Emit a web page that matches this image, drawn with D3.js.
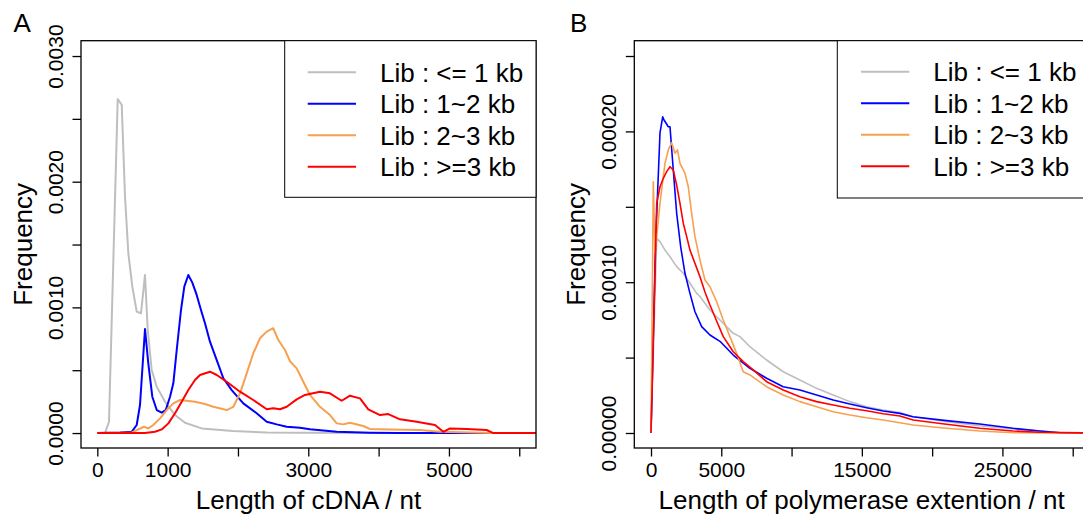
<!DOCTYPE html>
<html>
<head>
<meta charset="utf-8">
<script src="https://cdn.jsdelivr.net/npm/d3@7"></script>
<style>
	body { margin: 0; background: #fff; }
	svg { display: block; font-family: 'Liberation Sans', Arial, Helvetica, sans-serif; }
	.frame { fill: none; stroke: #000; stroke-width: 1.3; }
	.legend-box { fill: #fff; stroke: #000; stroke-width: 1; }
	.tick line { stroke: #000; stroke-width: 1.3; }
	.tick text { font-size: 21px; fill: #000; }
	.axis-title, .panel-tag, .legend text { font-size: 26px; fill: #000; }
	.curve { fill: none; stroke-linejoin: round; }
</style>
</head>
<body>
<svg id="chart" width="1083" height="515"></svg>
<script>
/* global d3 */

// legend names, shared by both panels
const libNames = [ 'Lib : <= 1 kb', 'Lib : 1~2 kb', 'Lib : 2~3 kb', 'Lib : >=3 kb' ];

// A : cDNA length (nt) vs frequency
const cdnaUpTo1kb = [
	[ 0, 0 ], [ 109, 0 ], [ 166, 0.00009 ], [ 290, 0.002657 ], [ 347, 0.002612 ], [ 394, 0.001881 ],
	[ 441, 0.001431 ], [ 498, 0.001165 ], [ 560, 0.000966 ], [ 621, 0.000953 ], [ 678, 0.001258 ],
	[ 717, 0.00082 ], [ 773, 0.000502 ], [ 845, 0.000369 ], [ 963, 0.000249 ], [ 1105, 0.000143 ],
	[ 1247, 0.000082 ], [ 1484, 0.000037 ], [ 1930, 0.000016 ], [ 2409, 0.000004 ], [ 2882, 0.000002 ],
	[ 4300, 0 ], [ 6400, 0 ],
];
const cdna1to2kb = [
	[ 0, 0 ], [ 323, 0.000004 ], [ 489, 0.00001 ], [ 560, 0.000064 ], [ 607, 0.000223 ], [ 678, 0.000828 ],
	[ 725, 0.000555 ], [ 782, 0.000289 ], [ 845, 0.000183 ], [ 916, 0.000162 ], [ 973, 0.000183 ],
	[ 1034, 0.000289 ], [ 1081, 0.000396 ], [ 1129, 0.000661 ], [ 1190, 0.000979 ], [ 1237, 0.001165 ],
	[ 1294, 0.001258 ], [ 1351, 0.001197 ], [ 1413, 0.001099 ], [ 1474, 0.000979 ], [ 1531, 0.000873 ],
	[ 1602, 0.000727 ], [ 1698, 0.000581 ], [ 1792, 0.000436 ], [ 1911, 0.000342 ], [ 2076, 0.000236 ],
	[ 2266, 0.000157 ], [ 2409, 0.00009 ], [ 2551, 0.000069 ], [ 2693, 0.00005 ], [ 2882, 0.000042 ],
	[ 3024, 0.00003 ], [ 3404, 0.00001 ], [ 3877, 0.000003 ], [ 4304, 0 ], [ 6400, 0 ],
];
const cdna2to3kb = [
	[ 0, 0 ], [ 394, 0.000002 ], [ 489, 0.000003 ], [ 583, 0.000029 ], [ 664, 0.00005 ], [ 725, 0.000037 ],
	[ 796, 0.000064 ], [ 892, 0.000117 ], [ 987, 0.000183 ], [ 1081, 0.000236 ], [ 1176, 0.000263 ],
	[ 1271, 0.000257 ], [ 1389, 0.000249 ], [ 1531, 0.000231 ], [ 1649, 0.000209 ], [ 1840, 0.000183 ],
	[ 1934, 0.000209 ], [ 2029, 0.000316 ], [ 2124, 0.000475 ], [ 2218, 0.000635 ], [ 2313, 0.000754 ],
	[ 2409, 0.000807 ], [ 2502, 0.000834 ], [ 2574, 0.00074 ], [ 2669, 0.000661 ], [ 2740, 0.000571 ],
	[ 2835, 0.000515 ], [ 2929, 0.000408 ], [ 3024, 0.000303 ], [ 3166, 0.000209 ], [ 3308, 0.000143 ],
	[ 3404, 0.000077 ], [ 3497, 0.000069 ], [ 3592, 0.000082 ], [ 3782, 0.000056 ], [ 3877, 0.000032 ],
	[ 4161, 0.000029 ], [ 4588, 0.000024 ], [ 4872, 0.00001 ], [ 5631, 0 ], [ 6400, 0 ],
];
const cdnaOver3kb = [
	[ 0, 0 ], [ 678, 0 ], [ 820, 0.00001 ], [ 916, 0.000029 ], [ 1010, 0.000077 ], [ 1105, 0.000157 ],
	[ 1200, 0.000249 ], [ 1294, 0.000342 ], [ 1389, 0.000422 ], [ 1460, 0.000462 ], [ 1602, 0.000488 ],
	[ 1698, 0.000462 ], [ 1840, 0.000408 ], [ 2029, 0.000329 ], [ 2218, 0.000263 ], [ 2409, 0.000189 ],
	[ 2502, 0.000197 ], [ 2598, 0.000189 ], [ 2693, 0.000209 ], [ 2835, 0.000268 ], [ 2953, 0.000303 ],
	[ 3166, 0.000329 ], [ 3308, 0.000316 ], [ 3475, 0.000257 ], [ 3593, 0.000297 ], [ 3735, 0.000276 ],
	[ 3853, 0.000189 ], [ 4020, 0.000143 ], [ 4137, 0.000151 ], [ 4304, 0.000109 ], [ 4541, 0.00009 ],
	[ 4802, 0.000064 ], [ 4920, 0.00001 ], [ 5015, 0.000037 ], [ 5252, 0.000032 ], [ 5537, 0.000024 ],
	[ 5631, 0 ], [ 6400, 0 ],
];

// B : polymerase extension length (nt) vs frequency
const polUpTo1kb = [
	[ 0, 0 ], [ 405, 1.291e-4 ], [ 640, 1.269e-4 ], [ 995, 1.213e-4 ], [ 1351, 1.169e-4 ], [ 1827, 1.103e-4 ],
	[ 2296, 1.059e-4 ], [ 2772, 9.93e-5 ], [ 3249, 9.26e-5 ], [ 3483, 9.05e-5 ], [ 4194, 8.16e-5 ],
	[ 4670, 7.71e-5 ], [ 4905, 7.49e-5 ], [ 5851, 6.61e-5 ], [ 6327, 6.39e-5 ], [ 7038, 5.72e-5 ],
	[ 8225, 4.84e-5 ], [ 9405, 4.06e-5 ], [ 10592, 3.51e-5 ], [ 11779, 2.96e-5 ], [ 12960, 2.52e-5 ],
	[ 14147, 2.08e-5 ], [ 15334, 1.74e-5 ], [ 16514, 1.53e-5 ], [ 17701, 1.35e-5 ], [ 18647, 1.08e-5 ],
	[ 21021, 7.5e-6 ], [ 23388, 4.8e-6 ], [ 25756, 2.7e-6 ], [ 27653, 1.3e-6 ], [ 29075, 3e-7 ], [ 31300, 0 ],
];
const pol1to2kb = [
	[ 0, 0 ], [ 320, 1.25e-4 ], [ 640, 1.99e-4 ], [ 832, 2.097e-4 ], [ 924, 2.076e-4 ], [ 1066, 2.056e-4 ],
	[ 1230, 2.031e-4 ], [ 1351, 2.031e-4 ], [ 1585, 1.744e-4 ], [ 1827, 1.457e-4 ], [ 2111, 1.235e-4 ],
	[ 2417, 1.059e-4 ], [ 2772, 9.26e-5 ], [ 3128, 8.04e-5 ], [ 3604, 7.05e-5 ], [ 4194, 6.5e-5 ],
	[ 4905, 6.08e-5 ], [ 5851, 5.17e-5 ], [ 7038, 4.29e-5 ], [ 8225, 3.63e-5 ], [ 9405, 3.07e-5 ],
	[ 10592, 2.85e-5 ], [ 11779, 2.52e-5 ], [ 12960, 2.19e-5 ], [ 14147, 1.92e-5 ], [ 15334, 1.68e-5 ],
	[ 16514, 1.46e-5 ], [ 17701, 1.3e-5 ], [ 18625, 1.08e-5 ], [ 21021, 8.2e-6 ], [ 23388, 6e-6 ],
	[ 25756, 3.1e-6 ], [ 27653, 1.3e-6 ], [ 29075, 2e-7 ], [ 31300, 0 ],
];
const pol2to3kb = [
	[ 0, 0 ], [ 164, 1.666e-4 ], [ 284, 1.192e-4 ], [ 640, 1.523e-4 ], [ 995, 1.788e-4 ], [ 1230, 1.877e-4 ],
	[ 1472, 1.925e-4 ], [ 1706, 1.855e-4 ], [ 1884, 1.877e-4 ], [ 2062, 1.788e-4 ], [ 2417, 1.722e-4 ],
	[ 2652, 1.633e-4 ], [ 2893, 1.457e-4 ], [ 3128, 1.302e-4 ], [ 3483, 1.147e-4 ], [ 3839, 1.015e-4 ],
	[ 4194, 9.7e-5 ], [ 4670, 8.71e-5 ], [ 5140, 7.49e-5 ], [ 5616, 6.39e-5 ], [ 6092, 5.28e-5 ],
	[ 6561, 4.06e-5 ], [ 7038, 3.85e-5 ], [ 8225, 3.07e-5 ], [ 9405, 2.52e-5 ], [ 10592, 2.08e-5 ],
	[ 11779, 1.74e-5 ], [ 12960, 1.41e-5 ], [ 14147, 1.19e-5 ], [ 15334, 1.01e-5 ], [ 16514, 8.6e-6 ],
	[ 17701, 6.8e-6 ], [ 18647, 5.3e-6 ], [ 21021, 3.1e-6 ], [ 23388, 1.3e-6 ], [ 25756, 2e-7 ], [ 31300, 0 ],
];
const polOver3kb = [
	[ 0, 0 ], [ 405, 1.523e-4 ], [ 640, 1.633e-4 ], [ 874, 1.689e-4 ], [ 1116, 1.733e-4 ], [ 1351, 1.766e-4 ],
	[ 1585, 1.744e-4 ], [ 1827, 1.644e-4 ], [ 2062, 1.523e-4 ], [ 2296, 1.391e-4 ], [ 2538, 1.302e-4 ],
	[ 2772, 1.213e-4 ], [ 3128, 1.125e-4 ], [ 3483, 1.036e-4 ], [ 3839, 9.35e-5 ], [ 4194, 8.49e-5 ],
	[ 4670, 7.43e-5 ], [ 5140, 6.39e-5 ], [ 5851, 5.39e-5 ], [ 6561, 4.73e-5 ], [ 7272, 4.18e-5 ],
	[ 8225, 3.4e-5 ], [ 9405, 2.85e-5 ], [ 10592, 2.41e-5 ], [ 11779, 2.08e-5 ], [ 12960, 1.86e-5 ],
	[ 14147, 1.64e-5 ], [ 15334, 1.48e-5 ], [ 16514, 1.28e-5 ], [ 17701, 1.13e-5 ], [ 18647, 8.6e-6 ],
	[ 21021, 5.8e-6 ], [ 23388, 3.1e-6 ], [ 25756, 1.3e-6 ], [ 27653, 5e-7 ], [ 31300, 0 ],
];

// tick values and which of them carry a label
const cdnaTicks = [ 0, 1000, 2000, 3000, 4000, 5000, 6000 ];
const cdnaTickLabels = [ 0, 1000, 3000, 5000 ];
const cdnaFreqTicks = [ 0, 0.0005, 0.001, 0.0015, 0.002, 0.0025, 0.003 ];
const cdnaFreqLabels = [ 0, 0.001, 0.002, 0.003 ];
const polTicks = [ 0, 5000, 10000, 15000, 20000, 25000, 30000 ];
const polTickLabels = [ 0, 5000, 15000, 25000 ];
const polFreqTicks = [ 0, 0.00005, 0.0001, 0.00015, 0.0002, 0.00025 ];
const polFreqLabels = [ 0, 0.0001, 0.0002 ];

const libColors = [ '#bebebe', '#0000ff', '#f7a04f', '#ff0000' ];

/**
 * One density panel: framed plot, R style axes, legend box
 */
class DensityPanel {
	/**
	 * @param {Object} svg    - d3 selection of the page svg
	 * @param {Object} config - geometry, data and labels of the panel
	 */
	constructor( svg, config ) {
		this.svg = svg;
		this.config = config;

		this.setupScales();
		this.renderAxes();
		this.renderLines();
		this.renderFrame();
		this.renderLegend();
		this.renderTitles();
	}

	setupScales() {
		const { box, xDomain, yDomain } = this.config;

		this.xScale = d3.scaleLinear().domain( xDomain ).range( [ box.left, box.right ] );
		this.yScale = d3.scaleLinear().domain( yDomain ).range( [ box.bottom, box.top ] );
	}

	renderAxes() {
		const { box, xTicks, xLabels, yTicks, yLabels, yDigits } = this.config;
		const same = ( list, d ) => list.some( ( v ) => Math.abs( v - d ) < 1e-12 );
		const fmt = d3.format( `.${ yDigits }f` );

		const xAxis = this.svg
			.append( 'g' )
			.attr( 'transform', `translate(0,${ box.bottom })` )
			.call(
				d3.axisBottom( this.xScale )
					.tickValues( xTicks )
					.tickSize( 8.5 )
					.tickFormat( ( d ) => ( same( xLabels, d ) ? String( d ) : '' ) )
			);
		xAxis.select( '.domain' ).remove();
		xAxis.selectAll( 'text' ).attr( 'dy', null ).attr( 'y', 28.7 );

		const yAxis = this.svg
			.append( 'g' )
			.attr( 'transform', `translate(${ box.left },0)` )
			.call(
				d3.axisLeft( this.yScale )
					.tickValues( yTicks )
					.tickSize( 8.5 )
					.tickFormat( ( d ) => ( same( yLabels, d ) ? fmt( d ) : '' ) )
			);
		yAxis.select( '.domain' ).remove();
		yAxis
			.selectAll( 'text' )
			.attr( 'dy', null )
			.attr( 'x', 0 )
			.attr( 'y', -18.3 )
			.attr( 'text-anchor', 'middle' )
			.attr( 'transform', 'rotate(-90)' );
	}

	renderLines() {
		const { id, box, series, lineWidth } = this.config;

		this.svg
			.append( 'clipPath' )
			.attr( 'id', `clip-${ id }` )
			.append( 'rect' )
			.attr( 'x', box.left )
			.attr( 'y', box.top )
			.attr( 'width', box.right - box.left )
			.attr( 'height', box.bottom - box.top );

		const line = d3
			.line()
			.x( ( d ) => this.xScale( d[ 0 ] ) )
			.y( ( d ) => this.yScale( d[ 1 ] ) );

		this.svg
			.append( 'g' )
			.attr( 'clip-path', `url(#clip-${ id })` )
			.selectAll( 'path' )
			.data( series )
			.join( 'path' )
			.attr( 'class', 'curve' )
			.attr( 'stroke', ( d, i ) => libColors[ i ] )
			.attr( 'stroke-width', lineWidth )
			.attr( 'd', line );
	}

	renderFrame() {
		const { box } = this.config;

		this.svg
			.append( 'rect' )
			.attr( 'class', 'frame' )
			.attr( 'x', box.left )
			.attr( 'y', box.top )
			.attr( 'width', box.right - box.left )
			.attr( 'height', box.bottom - box.top );
	}

	renderLegend() {
		const { legend, box } = this.config;
		const g = this.svg.append( 'g' ).attr( 'class', 'legend' );

		g.append( 'rect' )
			.attr( 'class', 'legend-box' )
			.attr( 'x', legend.left )
			.attr( 'y', box.top )
			.attr( 'width', legend.right - legend.left )
			.attr( 'height', legend.bottom - box.top );

		const rows = g
			.selectAll( '.row' )
			.data( libNames )
			.join( 'g' )
			.attr( 'class', 'row' )
			.attr( 'transform', ( d, i ) => `translate(0,${ legend.firstRow + i * 31.5 })` );

		rows.append( 'line' )
			.attr( 'x1', legend.lineX1 )
			.attr( 'x2', legend.lineX2 )
			.attr( 'stroke', ( d, i ) => libColors[ i ] )
			.attr( 'stroke-width', 2 );

		rows.append( 'text' )
			.attr( 'x', legend.textX )
			.attr( 'y', 9.3 )
			.text( ( d ) => d );
	}

	renderTitles() {
		const { box, tag, tagX, xTitle } = this.config;
		const midX = ( box.left + box.right ) / 2;
		const midY = ( box.top + box.bottom ) / 2;

		this.svg
			.append( 'text' )
			.attr( 'class', 'axis-title' )
			.attr( 'x', midX )
			.attr( 'y', 509 )
			.attr( 'text-anchor', 'middle' )
			.text( xTitle );

		this.svg
			.append( 'text' )
			.attr( 'class', 'axis-title' )
			.attr( 'text-anchor', 'middle' )
			.attr( 'transform', `translate(${ box.left - 49.3 },${ midY }) rotate(-90)` )
			.text( 'Frequency' );

		this.svg
			.append( 'text' )
			.attr( 'class', 'panel-tag' )
			.attr( 'x', tagX )
			.attr( 'y', 31.7 )
			.text( tag );
	}
}

const svg = d3.select( '#chart' );

new DensityPanel( svg, {
	id: 'a',
	tag: 'A',
	tagX: 13.5,
	box: { left: 81, right: 536, top: 40.7, bottom: 448 },
	xDomain: [ -232, 6238 ],
	yDomain: [ -0.000119, 0.003122 ],
	xTicks: cdnaTicks,
	xLabels: cdnaTickLabels,
	yTicks: cdnaFreqTicks,
	yLabels: cdnaFreqLabels,
	yDigits: 4,
	xTitle: 'Length of cDNA / nt',
	series: [ cdnaUpTo1kb, cdna1to2kb, cdna2to3kb, cdnaOver3kb ],
	lineWidth: 2,
	legend: { left: 284.7, right: 536, bottom: 197.3, firstRow: 72.3, lineX1: 307.7, lineX2: 356, textX: 380 },
} );

new DensityPanel( svg, {
	id: 'b',
	tag: 'B',
	tagX: 570,
	box: { left: 634.3, right: 1089, top: 40.7, bottom: 448 },
	xDomain: [ -1188, 31159 ],
	yDomain: [ -0.00000995, 0.00026015 ],
	xTicks: polTicks,
	xLabels: polTickLabels,
	yTicks: polFreqTicks,
	yLabels: polFreqLabels,
	yDigits: 5,
	xTitle: 'Length of polymerase extention / nt',
	series: [ polUpTo1kb, pol1to2kb, pol2to3kb, polOver3kb ],
	lineWidth: 1.6,
	legend: { left: 837.3, right: 1100, bottom: 198, firstRow: 71.7, lineX1: 861, lineX2: 909.3, textX: 933.3 },
} );
</script>
</body>
</html>
